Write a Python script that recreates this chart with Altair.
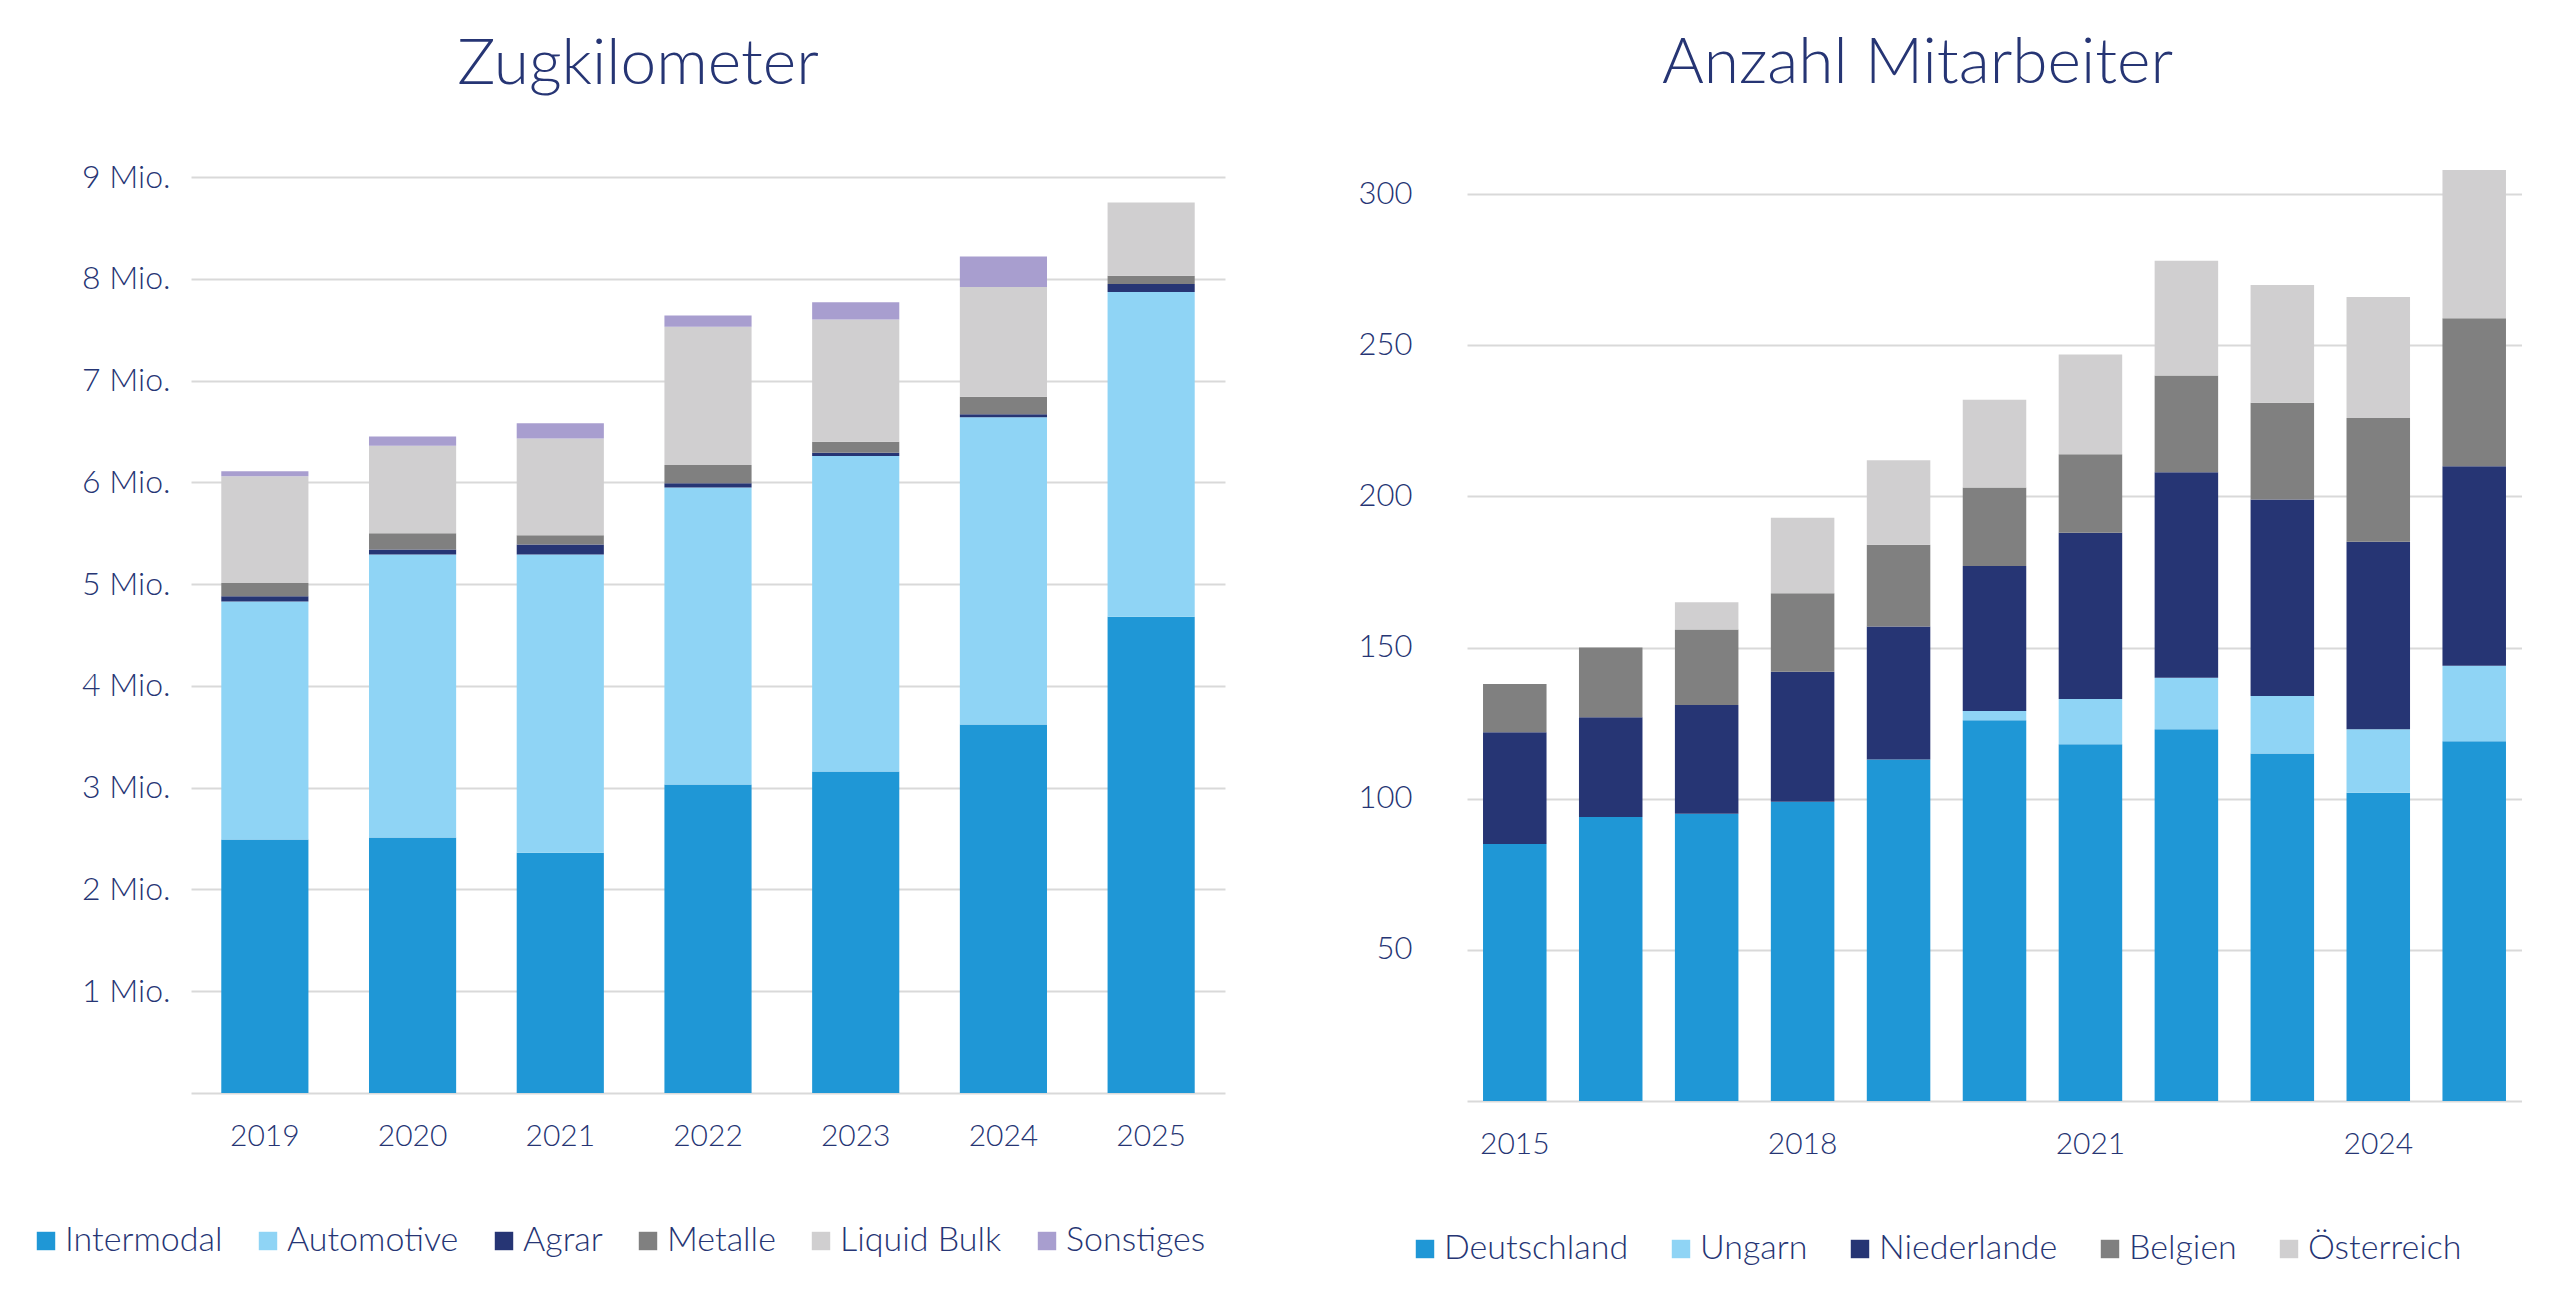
import altair as alt
import pandas as pd

NAVY = "#263574"
GRID = "#d9d9d9"
FONT = "Lato"

# ---------------- Left chart: Zugkilometer (in Mio.) ----------------
years_km = ["2019", "2020", "2021", "2022", "2023", "2024", "2025"]
km_categories = ["Intermodal", "Automotive", "Agrar", "Metalle", "Liquid Bulk", "Sonstiges"]
km_colors = ["#1f97d6", "#8fd4f5", "#263574", "#808080", "#d0cfd0", "#a89ecf"]
intermodal = [2.49, 2.51, 2.36, 3.03, 3.16, 3.62, 4.68]
automotive = [2.34, 2.78, 2.93, 2.92, 3.10, 3.02, 3.19]
agrar = [0.05, 0.05, 0.10, 0.04, 0.03, 0.03, 0.08]
metalle = [0.13, 0.16, 0.09, 0.18, 0.11, 0.17, 0.08]
liquid_bulk = [1.05, 0.86, 0.95, 1.36, 1.20, 1.08, 0.72]
sonstiges = [0.05, 0.09, 0.15, 0.11, 0.17, 0.30, 0.00]
km_ticks = [0, 1, 2, 3, 4, 5, 6, 7, 8, 9]

# ---------------- Right chart: Anzahl Mitarbeiter ----------------
years_ma = ["2015", "2016", "2017", "2018", "2019", "2020", "2021", "2022", "2023", "2024", "2025"]
ma_label_years = ["2015", "2018", "2021", "2024"]
ma_categories = ["Deutschland", "Ungarn", "Niederlande", "Belgien", "Österreich"]
ma_colors = ["#1f97d6", "#8fd4f5", "#263574", "#808080", "#d0cfd0"]
deutschland = [85, 94, 95, 99, 113, 126, 118, 123, 115, 102, 119]
ungarn = [0, 0, 0, 0, 0, 3, 15, 17, 19, 21, 25]
niederlande = [37, 33, 36, 43, 44, 48, 55, 68, 65, 62, 66]
belgien = [16, 23, 25, 26, 27, 26, 26, 32, 32, 41, 49]
oesterreich = [0, 0, 9, 25, 28, 29, 33, 38, 39, 40, 49]
ma_ticks = [0, 50, 100, 150, 200, 250, 300]


def long_df(xs, cats, series):
    rows = []
    for ci, (c, vals) in enumerate(zip(cats, series)):
        for x, v in zip(xs, vals):
            rows.append({"x": x, "cat": c, "v": v, "o": ci})
    return pd.DataFrame(rows)


df_km = long_df(years_km, km_categories,
                [intermodal, automotive, agrar, metalle, liquid_bulk, sonstiges])
df_ma = long_df(years_ma, ma_categories,
                [deutschland, ungarn, niederlande, belgien, oesterreich])


def legend(lx, ly, colpad):
    return alt.Legend(
        title=None, orient="none", legendX=lx, legendY=ly, direction="horizontal",
        symbolType="square", symbolSize=340, symbolStrokeWidth=0,
        labelFont=FONT, labelFontSize=34, labelFontWeight=300, labelColor=NAVY,
        labelOffset=2, columnPadding=colpad, padding=0, labelLimit=0,
    )


def title(text, dx, offset):
    return alt.TitleParams(text=text, fontSize=64, font=FONT, fontWeight=300, color=NAVY,
                           anchor="middle", frame="group", dx=dx, offset=offset)


left = alt.Chart(df_km).mark_bar().encode(
    x=alt.X("x:N", sort=years_km,
            scale=alt.Scale(paddingInner=0.41, paddingOuter=0.205),
            axis=alt.Axis(title=None, labelAngle=0, domain=False, ticks=False, grid=False,
                          labelPadding=28, labelFontSize=30, labelFont=FONT,
                          labelFontWeight=300, labelColor=NAVY)),
    y=alt.Y("v:Q", stack="zero",
            scale=alt.Scale(domain=[0, 9.128], nice=False, zero=True),
            axis=alt.Axis(title=None, values=km_ticks,
                          labelExpr="datum.value == 0 ? '' : datum.value + ' Mio.'",
                          domain=False, ticks=False, grid=True, gridColor=GRID, gridWidth=2,
                          labelPadding=21, labelFontSize=32, labelFont=FONT,
                          labelFontWeight=300, labelColor=NAVY,
                          minExtent=120, maxExtent=120)),
    color=alt.Color("cat:N", scale=alt.Scale(domain=km_categories, range=km_colors),
                    legend=legend(-162, 1060, 28)),
    order=alt.Order("o:Q", sort="ascending"),
).properties(width=1034, height=929, title=title("Zugkilometer", -70, 64))

right = alt.Chart(df_ma).mark_bar().encode(
    x=alt.X("x:N", sort=years_ma,
            scale=alt.Scale(paddingInner=0.338, paddingOuter=0.167),
            axis=alt.Axis(title=None, labelAngle=0, domain=False, ticks=False, grid=False,
                          values=ma_label_years,
                          labelPadding=28, labelFontSize=30, labelFont=FONT,
                          labelFontWeight=300, labelColor=NAVY)),
    y=alt.Y("v:Q", stack="zero",
            scale=alt.Scale(domain=[0, 310], nice=False, zero=True),
            axis=alt.Axis(title=None, values=ma_ticks,
                          labelExpr="datum.value == 0 ? '' : datum.value",
                          domain=False, ticks=False, grid=True, gridColor=GRID, gridWidth=2,
                          labelPadding=55, labelFontSize=31, labelFont=FONT,
                          labelFontWeight=300, labelColor=NAVY,
                          minExtent=120, maxExtent=120)),
    color=alt.Color("cat:N", scale=alt.Scale(domain=ma_categories, range=ma_colors),
                    legend=legend(-59, 1068, 35)),
    order=alt.Order("o:Q", sort="ascending"),
).properties(width=1055, height=937, title=title("Anzahl Mitarbeiter", -77, 68))

chart = alt.hconcat(left, right, spacing=122).resolve_scale(
    color="independent", x="independent", y="independent"
).resolve_legend(color="independent").properties(
    padding={"left": 29, "top": 32, "right": 0, "bottom": 0},
    background="white",
).configure(font=FONT).configure_view(stroke=None)

chart.save("out.html", embed_options={"renderer": "svg", "actions": False})
